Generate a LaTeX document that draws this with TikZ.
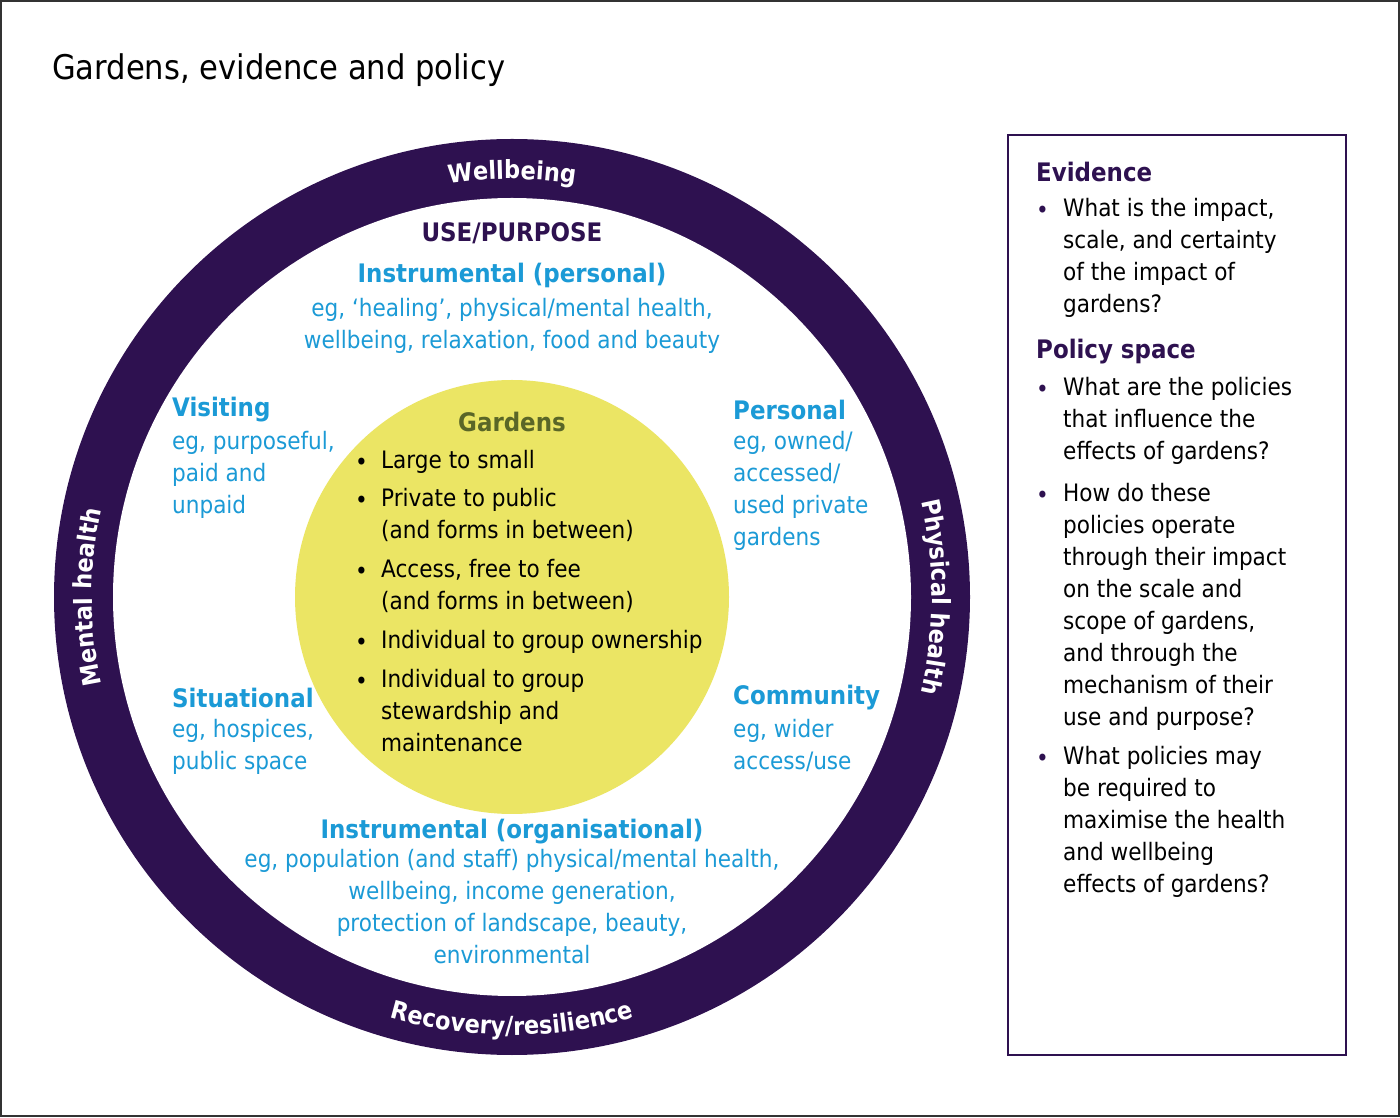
\documentclass[tikz,border=0pt]{standalone}
\usepackage{fontspec}
\setmainfont{DejaVu Sans Condensed}
\usetikzlibrary{decorations.text}
\definecolor{ring}{HTML}{2E1150}
\definecolor{cy}{HTML}{1B9AD6}
\definecolor{yel}{HTML}{EBE564}
\definecolor{oli}{HTML}{5A6627}
\begin{document}
\begin{tikzpicture}[x=1pt,y=1pt,
  body/.style={inner sep=0pt,font=\fontsize{24}{32}\selectfont,align=left},
  bl/.style={body,text=cy},
  hd/.style={inner sep=0pt,font=\fontsize{25.5}{32}\selectfont\bfseries},
  ringtxt/.style={decorate,decoration={text along path,text align=center,
     text={|\fontsize{25}{25}\selectfont\bfseries\color{white}|#1}}}]
\useasboundingbox (0,0) rectangle (1400,1117);
\draw[line width=2pt,black!80] (1,1) rectangle (1399,1116);
\node[anchor=west,inner sep=0pt,font=\fontsize{34}{40}\selectfont] (title) at (52,1047) {Gardens, evidence and policy};
\coordinate (C) at (512,520);
\fill[ring] (C) circle (458);
\fill[white] (C) circle (399);
\fill[yel] (C) circle (217);
\path[ringtxt={Wellbeing}] ([shift={(115:418)}]C) arc (115:65:418);
\path[ringtxt={Physical health}] ([shift={(30:420)}]C) arc (30:-30:420);
\path[ringtxt={Mental health}] ([shift={(210:420)}]C) arc (210:150:420);
\path[ringtxt={Recovery/resilience}] ([shift={(-118:438)}]C) arc (-118:-62:438);
% top
\node[hd,text=ring] (use) at (512,884) {USE/PURPOSE};
\node[hd,text=cy] (ip) at (512,842) {Instrumental (personal)};
\node[bl,align=center] (ipt) at (512,791) {eg, ‘healing’, physical/mental health,\\wellbeing, relaxation, food and beauty};
% sides
\node[hd,text=cy,anchor=west] (vis) at (172,707) {Visiting};
\node[bl,anchor=north west] (vist) at (172,686) {eg, purposeful,\\paid and\\unpaid};
\node[hd,text=cy,anchor=west] (per) at (733,707) {Personal};
\node[bl,anchor=north west] (pert) at (733,686) {eg, owned/\\accessed/\\used private\\gardens};
\node[hd,text=cy,anchor=west] (sit) at (172,419) {Situational};
\node[bl,anchor=north west] (sitt) at (172,398) {eg, hospices,\\public space};
\node[hd,text=cy,anchor=west] (com) at (733,419) {Community};
\node[bl,anchor=north west] (comt) at (733,398) {eg, wider\\access/use};
% bottom
\node[hd,text=cy] (io) at (512,285) {Instrumental (organisational)};
\node[bl,align=center,anchor=north] (iot) at (512,268) {eg, population (and staff) physical/mental health,\\wellbeing, income generation,\\protection of landscape, beauty,\\environmental};
% gardens
\node[hd,text=oli] (gar) at (512,695) {Gardens};
\foreach \y/\t [count=\i] in {653/{Large to small},615/{Private to public\\(and forms in between)},544/{Access, free to fee\\(and forms in between)},473/{Individual to group ownership},434/{Individual to group\\stewardship and\\maintenance}}{
  \node[body,anchor=west] (gb\i) at (355,\y) {•};
  \node[body,anchor=north west] (gt\i) at (381,\y+14) {\t};
}
% right box
\draw[ring,line width=2pt] (1008,62) rectangle (1346,982);
\node[hd,text=ring,anchor=west] (ev) at (1036,945) {Evidence};
\node[hd,text=ring,anchor=west] (ps) at (1036,765) {Policy space};
\foreach \y/\t [count=\i] in {905/{What is the impact,\\scale, and certainty\\of the impact of\\gardens?},726/{What are the policies\\that influence the\\effects of gardens?},620/{How do these\\policies operate\\through their impact\\on the scale and\\scope of gardens,\\and through the\\mechanism of their\\use and purpose?},357/{What policies may\\be required to\\maximise the health\\and wellbeing\\effects of gardens?}}{
  \node[body,anchor=west,text=ring] (rb\i) at (1036,\y) {•};
  \node[body,anchor=north west] (rt\i) at (1063,\y+14) {\t};
}
\end{tikzpicture}
\end{document}
